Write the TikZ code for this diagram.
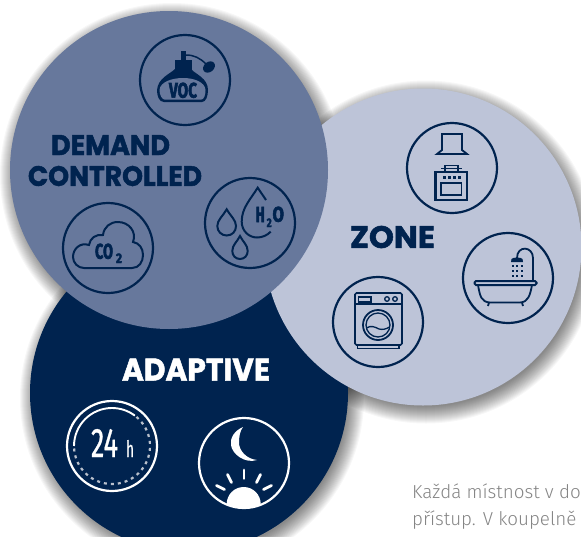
\documentclass[tikz,border=0pt]{standalone}
\usepackage{fontspec}
\usepackage{graphicx}
\setmainfont{Poppins}[BoldFeatures={FakeBold=1.6}]
\newfontfamily\bodyfont{Fira Sans Light}
\newfontfamily\iconfont{Fira Sans}[BoldFeatures={FakeBold=3.2}]
\newfontfamily\numfont{Fira Sans}[FakeBold=0.9]
\definecolor{navy}{HTML}{00234F}
\definecolor{demandblue}{HTML}{67789C}
\definecolor{zoneblue}{HTML}{BDC4D8}
\definecolor{bodygrey}{HTML}{858585}
\definecolor{dashgrey}{HTML}{B9C0CC}
\newcommand\softshadow[3]{%
  \foreach \grow in {-4,-3,...,13}{%
    \fill[black,opacity=0.03] (#1+3,#2+5) circle[radius=#3+\grow];}}
\tikzset{
  icon/.style={draw=navy,line width=2.2pt},
  iconthin/.style={draw=navy,line width=1.8pt},
  iconw/.style={draw=white,line width=2.2pt},
  lbl/.style={inner sep=0pt,outer sep=0pt,anchor=south west,text=navy},
  headline/.style={inner sep=0pt,outer sep=0pt,text=navy,font=\bfseries},
  bodyline/.style={inner sep=0pt,anchor=base west,text=bodygrey,font=\bodyfont\fontsize{18.8}{20}\selectfont},
  ray/.style={draw=white,line width=2.8pt,line cap=round},
  dot/.style={fill=navy,draw=none}
}
\begin{document}
\begin{tikzpicture}[x=1pt,y=-1pt]
\useasboundingbox (0,0) rectangle (581,536);
\clip (0,0) rectangle (581,536);
\fill[white] (0,0) rectangle (581,536);
% shadows
\softshadow{189}{393}{159}
\softshadow{423}{247}{158.5}
\softshadow{169}{170}{159}
% discs
\fill[navy] (189,393) circle[radius=159];
\fill[zoneblue] (423,247) circle[radius=158.5];
\fill[demandblue] (169,170) circle[radius=159];
% headings
\node[headline] (demand) at (110.5,145) {\resizebox{119pt}{20pt}{DEMAND}};
\node[headline] (controlled) at (115,176) {\resizebox{174pt}{20pt}{CONTROLLED}};
\node[headline] (zone) at (392.5,237) {\resizebox{85pt}{22pt}{ZONE}};
\node[headline,text=white] (adaptive) at (196,369.5) {\resizebox{148pt}{22pt}{ADAPTIVE}};
% VOC
\draw[icon] (185,80) circle[radius=45];
\fill[navy] (180.7,50.7) rectangle (185.7,61);
\fill[navy] (175,60) rectangle (191.7,71);
\fill[navy] (175,69) .. controls (170,74) and (158,78) .. (157,90) .. controls (157,96) and (159,102) .. (164,102) -- (202,102) .. controls (206,102) and (208,96) .. (208,90) .. controls (208,78) and (195,74) .. (191,69) -- cycle;
\fill[demandblue] (159.5,90) .. controls (160,82) and (172,78) .. (183,78) .. controls (194,78) and (205,82) .. (205.5,90) .. controls (205.5,95) and (204,99.7) .. (201,99.7) -- (165,99.7) .. controls (162,99.7) and (159.5,95) .. (159.5,90) -- cycle;
\draw[iconthin,line width=1.5pt] (186,55) .. controls (194,55) and (200,58) .. (206,64);
\fill[navy] (209,67) ellipse[x radius=6.5,y radius=5,rotate=40];
\node[lbl] (voc) at (169,98) {\iconfont\bfseries\resizebox{28pt}{15pt}{VOC}};
% CO2
\draw[icon] (108,248) circle[radius=45];
\draw[iconthin,line width=2pt] (84,268) -- (132,268) .. controls (139,268) and (143,262) .. (143,255) .. controls (143,248) and (139,243) .. (133,242) .. controls (137,232) and (129,222) .. (118,222) .. controls (110,222) and (104,227) .. (103,235) .. controls (96,234) and (90,238) .. (89,245) .. controls (80,242) and (73,249) .. (73,257) .. controls (73,263) and (78,268) .. (84,268) -- cycle;
\node[lbl] (co) at (95,259) {\iconfont\bfseries\resizebox{18pt}{15pt}{CO}};
\node[lbl] (cotwo) at (116,263) {\iconfont\bfseries\resizebox{6pt}{9.5pt}{2}};
% H2O
\draw[icon] (250,223) circle[radius=45];
\draw[iconthin,line width=2pt] (266,200) -- (257.7,187.7) .. controls (250,200) and (241.7,208) .. (241.7,221.7) .. controls (241.7,231) and (249,237.5) .. (257,237.5) .. controls (262,237.5) and (267,235.5) .. (270.7,231.7);
\draw[iconthin,line width=2pt] (226.7,209.3) .. controls (223,216) and (217.3,220) .. (217.3,226) .. controls (217.3,231.5) and (221.5,235.5) .. (226.7,235.5) .. controls (232,235.5) and (236,231.5) .. (236,226) .. controls (236,220) and (230.5,216) .. (226.7,209.3) -- cycle;
\draw[iconthin,line width=2pt] (240,236) .. controls (237,242) and (232.3,245) .. (232.3,251) .. controls (232.3,255.5) and (235.5,259) .. (240,259) .. controls (244.5,259) and (247.7,255.5) .. (247.7,251) .. controls (247.7,245) and (243,242) .. (240,236) -- cycle;
\node[lbl] (hh) at (255.7,222) {\iconfont\bfseries\resizebox{9pt}{15pt}{H}};
\node[lbl] (htwo) at (266.7,227) {\iconfont\bfseries\resizebox{5pt}{8.5pt}{2}};
\node[lbl] (oo) at (272.5,222) {\iconfont\bfseries\resizebox{11.5pt}{15pt}{O}};
% oven + hood
\draw[icon] (452,168) circle[radius=45];
\draw[iconthin] (442,134) -- (462,134) -- (462,150) -- (467,154) -- (437,154) -- (442,150) -- cycle;
\draw[icon] (435.5,172) rectangle (467,200);
\draw[iconthin] (445,171) -- (445,165.5) -- (458,165.5) -- (458,171);
\draw[iconthin] (441,168.5) -- (462,168.5);
\draw[iconthin] (441,183) rectangle (461.5,195);
\foreach \xx in {444,449,454,459}{\fill[dot] (\xx-1.5,175.5) rectangle (\xx+1.5,179);}
% bath
\draw[icon] (508,278) circle[radius=45];
\draw[iconthin,line width=2pt,rounded corners=1.5pt] (474.5,281) rectangle (536.5,285);
\draw[iconthin] (478,285) .. controls (480,296) and (481,302) .. (490,302.5) -- (520,302.5) .. controls (528,302) and (530,296) .. (532,285);
\draw[iconthin] (489,302.5) -- (488,306);
\draw[iconthin] (522,302.5) -- (523,306);
\draw[iconthin] (533,281) -- (533,258) .. controls (533,246) and (517,245) .. (517,258);
\fill[dot] (511,262) -- (511.5,259) .. controls (513,257) and (521,257) .. (522.5,259) -- (523,262) -- cycle;
\foreach \yy in {266,271,276}{\foreach \xx in {512.5,517,521.5}{\fill[dot] (\xx-1,\yy-1) rectangle (\xx+1,\yy+1);}}
% washing machine
\draw[icon] (378,322) circle[radius=45];
\draw[iconthin,line width=1.6pt,rounded corners=1.5pt] (355,293) rectangle (402,345);
\draw[iconthin,line width=1.5pt] (355,304) -- (402,304);
\draw[iconthin,line width=1.5pt] (358.5,297) rectangle (371,302);
\draw[iconthin,line width=1.3pt] (387,299) circle[radius=2.3];
\draw[iconthin,line width=1.3pt] (395,299) circle[radius=2.3];
\draw[iconthin] (378,325) circle[radius=15];
\draw[iconthin,line width=1.3pt] (378,325) circle[radius=12];
\draw[iconthin,line width=1.3pt] (366.5,328) .. controls (371,325) and (375,327) .. (379,329) .. controls (383,330) and (386,329) .. (389.5,327);
\draw[iconthin,line width=1.5pt] (357.5,345.5) -- (357.5,348.5) -- (399,348.5) -- (399,345.5);
% 24 h
\draw[iconw] (112,446) circle[radius=45];
\draw[draw=white,line width=1.9pt] ([shift={(-180:38)}]112,446) arc[start angle=-180,end angle=-53,radius=38];
\draw[draw=dashgrey,line width=2.2pt,dash pattern=on 3pt off 4pt] ([shift={(-50:38)}]112,446) arc[start angle=-50,end angle=180,radius=38];
\node[lbl,text=white] (day) at (91,457) {\numfont\resizebox{27pt}{28pt}{24}};
\node[lbl,text=white] (hour) at (126,457) {\numfont\resizebox{8pt}{17pt}{h}};
% moon + sun
\draw[iconw] (244,463) circle[radius=45];
\fill[white] (243,427) .. controls (234,431) and (230,438) .. (231,445) .. controls (232,454) and (245,464) .. (257,460) .. controls (246,459) and (239,450) .. (239,443) .. controls (239,436) and (240,431) .. (243,427) -- cycle;
\begin{scope}
\clip (244,463) circle[radius=45];
\fill[white] (243.7,504) circle[radius=17];
\end{scope}
\draw[ray] (244,470) -- (244,478.5);
\draw[ray] (227.5,474.5) -- (231.5,482.5);
\draw[ray] (216.5,485.5) -- (224.5,489.5);
\draw[ray] (260.5,474.5) -- (256.5,482.5);
\draw[ray] (271.5,485.5) -- (263.5,489.5);
% text
\node[bodyline] (lineone) at (412,498) {Každá místnost v do};
\node[bodyline] (linetwo) at (412,525) {přístup. V koupelně};
\end{tikzpicture}
\end{document}
